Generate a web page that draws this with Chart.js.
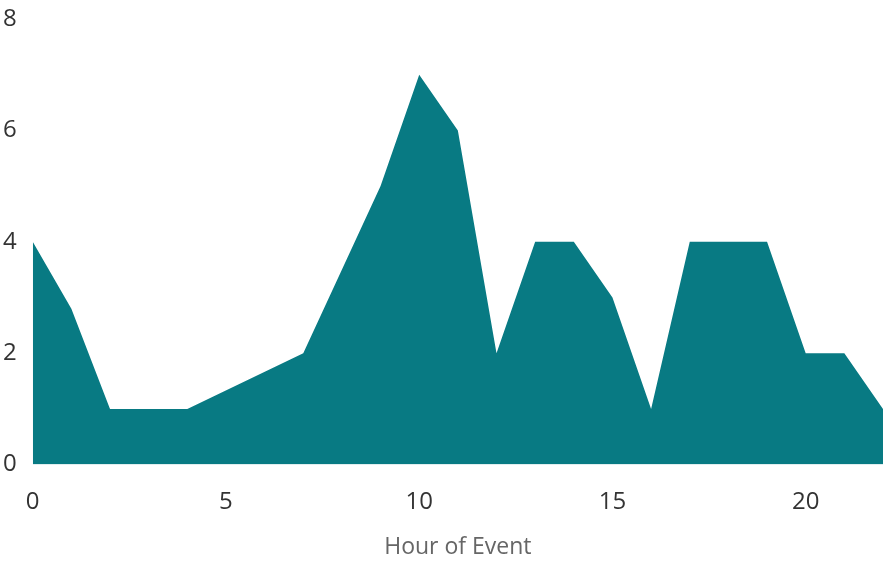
<!DOCTYPE html>
<html>
<head>
<meta charset="utf-8">
<script src="https://cdn.jsdelivr.net/npm/chart.js@4/dist/chart.umd.min.js"></script>
<style>
  html, body { margin: 0; padding: 0; background: #fff; }
  #wrap { width: 886px; height: 561px; }
</style>
</head>
<body>
<div id="wrap"><canvas id="chart" width="886" height="561"></canvas></div>
<script>
// hours that have events, and the event count for each
const hours  = [0, 1, 2, 3, 4, 7, 9, 10, 11, 12, 13, 14, 15, 16, 17, 18, 19, 20, 21, 22];
const counts = [4, 2.8, 1, 1, 1, 2, 5, 7, 6, 2, 4, 4, 3, 1, 4, 4, 4, 2, 2, 1];
const xTicks = [0, 5, 10, 15, 20];
const yTicks = [0, 2, 4, 6, 8];

const points = hours.map((h, i) => ({ x: h, y: counts[i] }));

const ctx = document.getElementById("chart");

new Chart(ctx, {
    type: "line",
    data: {
        datasets: [{
            label: "Events",
            data: points,
            fill: "origin",
            backgroundColor: "#087a83",
            borderColor: "#087a83",
            borderWidth: 0,
            pointRadius: 0,
            tension: 0
        }]
    },
    options: {
        responsive: false,
        animation: false,
        layout: { padding: { top: 19, right: 3, left: 3, bottom: 0 } },
        plugins: {
            legend: { display: false },
            tooltip: { enabled: false }
        },
        scales: {
            x: {
                type: "linear",
                min: 0,
                max: 22,
                grid: { display: false, drawTicks: false },
                border: { display: false },
                afterBuildTicks: axis => { axis.ticks = xTicks.map(v => ({ value: v })); },
                afterFit: axis => {
                    // tick labels may hang over the plot edges; pull the axis box tighter
                    axis.paddingLeft = 0;
                    axis.paddingRight = 0;
                    axis.height -= 10;
                },
                ticks: {
                    padding: 23,
                    color: "#333",
                    font: { family: "'Open Sans', sans-serif", size: 24 }
                },
                title: {
                    display: true,
                    text: "Hour of Event",
                    color: "#666",
                    padding: { top: 4, bottom: 0 },
                    font: { family: "'Open Sans', sans-serif", size: 23 }
                }
            },
            y: {
                min: 0,
                max: 8,
                grid: { display: false, drawTicks: false },
                border: { display: false },
                afterBuildTicks: axis => { axis.ticks = yTicks.map(v => ({ value: v })); },
                afterFit: axis => {
                    axis.paddingTop = 0;
                    axis.paddingBottom = 0;
                },
                ticks: {
                    padding: 8,
                    crossAlign: "far",
                    color: "#333",
                    font: { family: "'Open Sans', sans-serif", size: 24 }
                }
            }
        }
    }
});
</script>
</body>
</html>
